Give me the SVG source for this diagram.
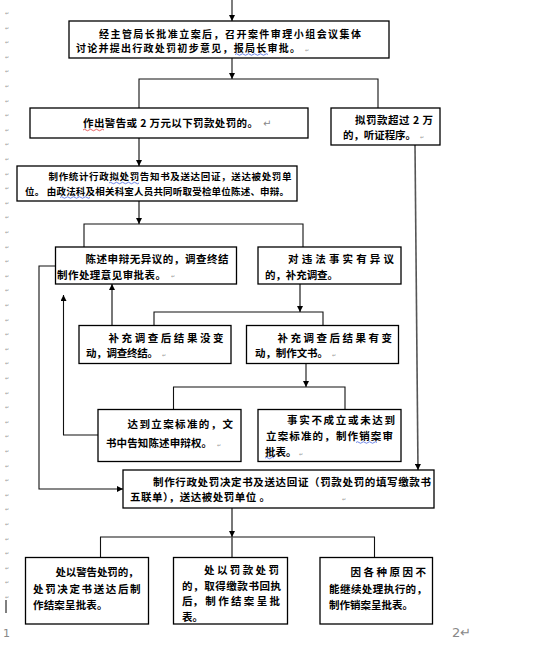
<svg xmlns="http://www.w3.org/2000/svg" width="541" height="665" viewBox="0 0 541 665">
<style>
.bg{fill:#fff}
.box{fill:#fff;stroke:#000;stroke-width:1.3}
.t{font-family:"Noto Sans CJK SC","Noto Sans",sans-serif;font-size:10.5px;font-weight:bold;fill:#000}
.s{font-size:9.5px}
.m{font-size:10px}
.ln{stroke:#111;stroke-width:1.1;fill:none}
.gl{stroke:#555;stroke-width:1.6;fill:none}
.pm{font-family:"DejaVu Sans",sans-serif;font-size:5px;fill:#999}
.pg{font-family:"DejaVu Sans",sans-serif;font-size:13px;fill:#888}
.wb{stroke:#3355dd;stroke-width:0.7;fill:none}
.wr{stroke:#dd2222;stroke-width:0.7;fill:none}
</style>
<defs>
<marker id="ah" viewBox="0 0 10 10" refX="10" refY="5" markerWidth="6" markerHeight="6" markerUnits="userSpaceOnUse" orient="auto">
<path d="M0,0 L10,5 L0,10 z" fill="#000"/>
</marker>
</defs>
<rect class="bg" x="0" y="0" width="541" height="665"/>

<g id="margin">
<text class="pm"><tspan x="5" y="15">↵</tspan><tspan x="5" y="30">↵</tspan><tspan x="5" y="44">↵</tspan><tspan x="5" y="59">↵</tspan><tspan x="5" y="73">↵</tspan><tspan x="5" y="88">↵</tspan><tspan x="5" y="103">↵</tspan><tspan x="5" y="117">↵</tspan><tspan x="5" y="132">↵</tspan><tspan x="5" y="146">↵</tspan><tspan x="5" y="161">↵</tspan><tspan x="5" y="176">↵</tspan><tspan x="5" y="190">↵</tspan><tspan x="5" y="205">↵</tspan><tspan x="5" y="219">↵</tspan><tspan x="5" y="234">↵</tspan><tspan x="5" y="249">↵</tspan><tspan x="5" y="263">↵</tspan><tspan x="5" y="278">↵</tspan><tspan x="5" y="292">↵</tspan><tspan x="5" y="307">↵</tspan><tspan x="5" y="322">↵</tspan><tspan x="5" y="336">↵</tspan><tspan x="5" y="351">↵</tspan><tspan x="5" y="365">↵</tspan><tspan x="5" y="380">↵</tspan><tspan x="5" y="395">↵</tspan><tspan x="5" y="409">↵</tspan><tspan x="5" y="424">↵</tspan><tspan x="5" y="438">↵</tspan><tspan x="5" y="453">↵</tspan><tspan x="5" y="468">↵</tspan><tspan x="5" y="482">↵</tspan><tspan x="5" y="497">↵</tspan><tspan x="5" y="511">↵</tspan><tspan x="5" y="526">↵</tspan><tspan x="5" y="541">↵</tspan><tspan x="5" y="555">↵</tspan><tspan x="5" y="570">↵</tspan><tspan x="5" y="584">↵</tspan><tspan x="5" y="599">↵</tspan></text>
<line x1="6" y1="600" x2="6" y2="613" stroke="#000" stroke-width="1"/>
<text class="pg" x="3" y="637" style="font-size:11px">1</text>
<text class="pg" x="452" y="637">2↵</text>
</g>

<g id="connectors">
<line class="ln" x1="232" y1="0" x2="232" y2="21" marker-end="url(#ah)"/>
<line class="ln" x1="232" y1="58" x2="232" y2="79" marker-end="url(#ah)"/>
<polyline class="ln" points="139,108 139,79 378,79 378,108"/>
<line class="gl" x1="139" y1="138" x2="139" y2="166" marker-end="url(#ah)"/>
<line class="gl" x1="139" y1="201" x2="139" y2="224" marker-end="url(#ah)"/>
<polyline class="ln" points="84,247 84,224 303,224 303,247"/>
<polyline class="ln" points="55.5,266 39,266 39,489 123,489" marker-end="url(#ah)"/>
<line class="gl" x1="300" y1="284" x2="300" y2="312" marker-end="url(#ah)"/>
<polyline class="ln" points="154,325.5 154,312 323,312 323,325.5"/>
<line class="gl" x1="112" y1="325.5" x2="112" y2="284" marker-end="url(#ah)"/>
<line class="ln" x1="306" y1="363.5" x2="306" y2="387" marker-end="url(#ah)"/>
<polyline class="ln" points="173.5,409.5 173.5,387 345,387 345,409.5"/>
<polyline class="ln" points="98,435 63.5,435 63.5,295" marker-end="url(#ah)"/>
<line class="gl" x1="415" y1="145" x2="418" y2="470" marker-end="url(#ah)"/>
<line class="gl" x1="232" y1="508" x2="232" y2="537" marker-end="url(#ah)"/>
<polyline class="ln" points="100.5,557.5 100.5,537 374.5,537 374.5,557.5"/>
<line class="gl" x1="232" y1="537" x2="232" y2="557.5"/>
</g>

<g id="n1">
<rect class="box" x="69" y="21" width="320" height="37"/>
<text class="t m" x="99" y="37.5" textLength="262" lengthAdjust="spacing">经主管局长批准立案后，召开案件审理小组会议集体</text>
<text class="t m" x="76" y="52" textLength="224" lengthAdjust="spacing">讨论并提出行政处罚初步意见，报局长审批。</text>
<path class="wb" d="M235,54.5 q1.5,-1.5 3,0 t3,0 t3,0 t3,0 t3,0 t3,0 t3,0 t3,0 t3,0 t3,0 t3,0"/>
<text class="pm" x="305" y="52">↵</text>
</g>

<g id="n2">
<rect class="box" x="30" y="108" width="278" height="30"/>
<text class="t" x="83" y="127" textLength="175" lengthAdjust="spacing">作出警告或 2 万元以下罚款处罚的。</text>
<path class="wr" d="M83,130 q1.5,-1.5 3,0 t3,0 t3,0 t3,0 t3,0 t3,0 t3,0"/>
<text class="pg" x="263" y="127" style="font-size:10px">↵</text>
</g>

<g id="n3">
<rect class="box" x="331" y="108" width="109" height="37"/>
<text class="t" x="355" y="124" textLength="78" lengthAdjust="spacing">拟罚款超过 2 万</text>
<text class="t" x="343" y="139" textLength="73" lengthAdjust="spacing">的，听证程序。</text>
<text class="pm" x="420" y="139">↵</text>
</g>

<g id="n4">
<rect class="box" x="17" y="166" width="280" height="35"/>
<text class="t s" x="48.5" y="180" textLength="243" lengthAdjust="spacing">制作统计行政拟处罚告知书及送达回证，送达被处罚单</text>
<text class="t s" x="25" y="194.5" textLength="264" lengthAdjust="spacing">位。 由政法科及相关科室人员共同听取受检单位陈述、申辩。</text>
<path class="wb" d="M109,183 q1.5,-1.5 3,0 t3,0 t3,0 t3,0 t3,0 t3,0 t3,0 t3,0 t3,0 t3,0"/>
<path class="wb" d="M60,197.5 q1.5,-1.5 3,0 t3,0 t3,0 t3,0 t3,0 t3,0 t3,0 t3,0 t3,0 t3,0"/>
</g>

<g id="n5">
<rect class="box" x="55.5" y="247" width="181" height="37"/>
<text class="t" x="85.5" y="263" textLength="143" lengthAdjust="spacing">陈述申辩无异议的，调查终结</text>
<text class="t" x="57" y="278.5" textLength="109" lengthAdjust="spacing">制作处理意见审批表。</text>
<text class="pm" x="171" y="278">↵</text>
</g>

<g id="n6">
<rect class="box" x="258" y="247" width="143" height="37"/>
<text class="t" x="288" y="263" textLength="106" lengthAdjust="spacing">对 违 法 事 实 有 异 议</text>
<text class="t" x="265" y="278.5" textLength="73" lengthAdjust="spacing">的，补充调查。</text>
</g>

<g id="n7">
<rect class="box" x="79" y="325.5" width="152" height="38"/>
<text class="t" x="108.5" y="341.5" textLength="115" lengthAdjust="spacing">补 充 调 查 后 结 果 没 变</text>
<text class="t" x="86" y="357" textLength="72" lengthAdjust="spacing">动，调查终结。</text>
<text class="pm" x="162" y="357">↵</text>
</g>

<g id="n8">
<rect class="box" x="246.5" y="325.5" width="152" height="38"/>
<text class="t" x="277.5" y="341.5" textLength="114.5" lengthAdjust="spacing">补 充 调 查 后 结 果 有 变</text>
<text class="t" x="255" y="357" textLength="73" lengthAdjust="spacing">动，制作文书。</text>
<text class="pm" x="332" y="357">↵</text>
</g>

<g id="n9">
<rect class="box" x="98" y="409.5" width="143" height="52"/>
<text class="t" x="127.5" y="427.5" textLength="105.5" lengthAdjust="spacing">达到立案标准的，文</text>
<text class="t" x="106" y="447" textLength="106" lengthAdjust="spacing">书中告知陈述申辩权。</text>
<text class="pm" x="217" y="447">↵</text>
</g>

<g id="n10">
<rect class="box" x="258" y="409.5" width="143" height="52"/>
<text class="t" x="287" y="424" textLength="108" lengthAdjust="spacing">事实不成立或未达到</text>
<text class="t" x="266" y="439.5" textLength="127" lengthAdjust="spacing">立案标准的，制作销案审</text>
<text class="t" x="265" y="455.5">批表。</text>
<path class="wb" d="M356,442.5 q1.5,-1.5 3,0 t3,0 t3,0 t3,0 t3,0 t3,0 t3,0"/>
<path class="wb" d="M265,458 q1.5,-1.5 3,0 t3,0 t3,0"/>
<text class="pm" x="299" y="455.5">↵</text>
</g>

<g id="n11">
<rect class="box" x="123" y="470" width="311" height="38"/>
<text class="t" x="153" y="486" textLength="278" lengthAdjust="spacing">制作行政处罚决定书及送达回证（罚款处罚的填写缴款书</text>
<text class="t" x="130" y="501" textLength="140" lengthAdjust="spacing">五联单），送达被处罚单位 。</text>
<text class="pm" x="342" y="501">↵</text>
</g>

<g id="n12">
<rect class="box" x="25.5" y="557.5" width="123" height="66.5"/>
<text class="t" x="55.5" y="576" textLength="83" lengthAdjust="spacing">处以警告处罚的，</text>
<text class="t" x="33" y="592.5" textLength="107.5" lengthAdjust="spacing">处罚决定书送达后制</text>
<text class="t" x="33" y="609" textLength="74.5" lengthAdjust="spacing">作结案呈批表。</text>
</g>

<g id="n13">
<rect class="box" x="173.5" y="557.5" width="114" height="66.5"/>
<text class="t" x="204" y="574" textLength="75" lengthAdjust="spacing">处 以 罚 款 处 罚</text>
<text class="t" x="182" y="589.5" textLength="99" lengthAdjust="spacing">的，取得缴款书回执</text>
<text class="t" x="182" y="605" textLength="98" lengthAdjust="spacing">后， 制 作 结 案 呈 批</text>
<text class="t" x="182" y="620.5">表。</text>
</g>

<g id="n14">
<rect class="box" x="320" y="557.5" width="112.5" height="66.5"/>
<text class="t" x="350.5" y="576" textLength="75.5" lengthAdjust="spacing">因各种原因不</text>
<text class="t" x="329" y="592.5" textLength="98" lengthAdjust="spacing">能继续处理执行的，</text>
<text class="t" x="329" y="609" textLength="84" lengthAdjust="spacing">制作销案呈批表。</text>
</g>
</svg>
